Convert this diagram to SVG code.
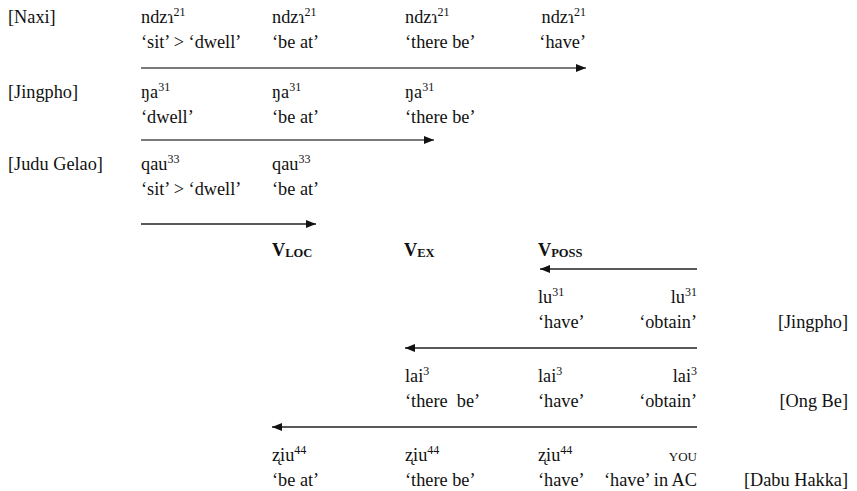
<svg xmlns="http://www.w3.org/2000/svg" width="857" height="491" viewBox="0 0 857 491">
<style>
text{font-family:serif;font-size:18.3px;fill:#111}
.sup{font-size:12px}
.sub{font-size:12.5px;font-weight:bold}
.b{font-weight:bold}
.r{text-anchor:end}
.sc{font-size:13px}
.g{stroke:#7a7a7a;stroke-width:2;fill:none}
.k{stroke:#222;stroke-width:1.3;fill:none}
</style>
<defs>
<marker id="ah" viewBox="0 0 10 8" refX="10" refY="4" markerWidth="10" markerHeight="8" markerUnits="userSpaceOnUse" orient="auto">
<path d="M0,0 L10,4 L0,8 z" fill="#111"/>
</marker>
</defs>
<g id="connectors">
<line class="g" x1="141" y1="68" x2="586" y2="68" marker-end="url(#ah)"/>
<line class="g" x1="141" y1="140" x2="434" y2="140" marker-end="url(#ah)"/>
<line class="k" x1="141" y1="224" x2="316" y2="224" marker-end="url(#ah)"/>
<line class="k" x1="697" y1="269" x2="540" y2="269" marker-end="url(#ah)"/>
<line class="k" x1="697" y1="348" x2="405" y2="348" marker-end="url(#ah)"/>
<line class="k" x1="697" y1="427" x2="272" y2="427" marker-end="url(#ah)"/>
</g>
<g id="naxi">
<text x="8" y="23">[Naxi]</text>
<text x="141" y="23">ndzɿ<tspan class="sup" dy="-7">21</tspan></text>
<text x="141" y="48">‘sit’ &gt; ‘dwell’</text>
<text x="272" y="23">ndzɿ<tspan class="sup" dy="-7">21</tspan></text>
<text x="272" y="48">‘be at’</text>
<text x="405" y="23">ndzɿ<tspan class="sup" dy="-7">21</tspan></text>
<text x="405" y="48">‘there be’</text>
<text class="r" x="586" y="23">ndzɿ<tspan class="sup" dy="-7">21</tspan></text>
<text class="r" x="586" y="48">‘have’</text>
</g>
<g id="jingpho1">
<text x="8" y="98">[Jingpho]</text>
<text x="141" y="98">ŋa<tspan class="sup" dy="-7">31</tspan></text>
<text x="141" y="123">‘dwell’</text>
<text x="272" y="98">ŋa<tspan class="sup" dy="-7">31</tspan></text>
<text x="272" y="123">‘be at’</text>
<text x="405" y="98">ŋa<tspan class="sup" dy="-7">31</tspan></text>
<text x="405" y="123">‘there be’</text>
</g>
<g id="judugelao">
<text x="8" y="170">[Judu Gelao]</text>
<text x="141" y="170">qau<tspan class="sup" dy="-7">33</tspan></text>
<text x="141" y="195">‘sit’ &gt; ‘dwell’</text>
<text x="272" y="170">qau<tspan class="sup" dy="-7">33</tspan></text>
<text x="272" y="195">‘be at’</text>
</g>
<g id="headers">
<text class="b" x="272" y="256">V<tspan class="sub" dy="1">LOC</tspan></text>
<text class="b" x="404" y="256">V<tspan class="sub" dy="1">EX</tspan></text>
<text class="b" x="538" y="256">V<tspan class="sub" dy="1">POSS</tspan></text>
</g>
<g id="jingpho2">
<text x="538" y="303">lu<tspan class="sup" dy="-7">31</tspan></text>
<text x="538" y="328">‘have’</text>
<text class="r" x="697" y="303">lu<tspan class="sup" dy="-7">31</tspan></text>
<text class="r" x="697" y="328">‘obtain’</text>
<text class="r" x="848" y="328">[Jingpho]</text>
</g>
<g id="ongbe">
<text x="405" y="382">lai<tspan class="sup" dy="-7">3</tspan></text>
<text x="405" y="407" xml:space="preserve">‘there  be’</text>
<text x="538" y="382">lai<tspan class="sup" dy="-7">3</tspan></text>
<text x="538" y="407">‘have’</text>
<text class="r" x="697" y="382">lai<tspan class="sup" dy="-7">3</tspan></text>
<text class="r" x="697" y="407">‘obtain’</text>
<text class="r" x="848" y="407">[Ong Be]</text>
</g>
<g id="dabuhakka">
<text x="272" y="461">z̨iu<tspan class="sup" dy="-7">44</tspan></text>
<text x="272" y="486">‘be at’</text>
<text x="405" y="461">z̨iu<tspan class="sup" dy="-7">44</tspan></text>
<text x="405" y="486">‘there be’</text>
<text x="538" y="461">z̨iu<tspan class="sup" dy="-7">44</tspan></text>
<text x="538" y="486">‘have’</text>
<text class="r sc" x="697" y="461">YOU</text>
<text class="r" x="697" y="486">‘have’ in AC</text>
<text class="r" x="848" y="486">[Dabu Hakka]</text>
</g>
</svg>
